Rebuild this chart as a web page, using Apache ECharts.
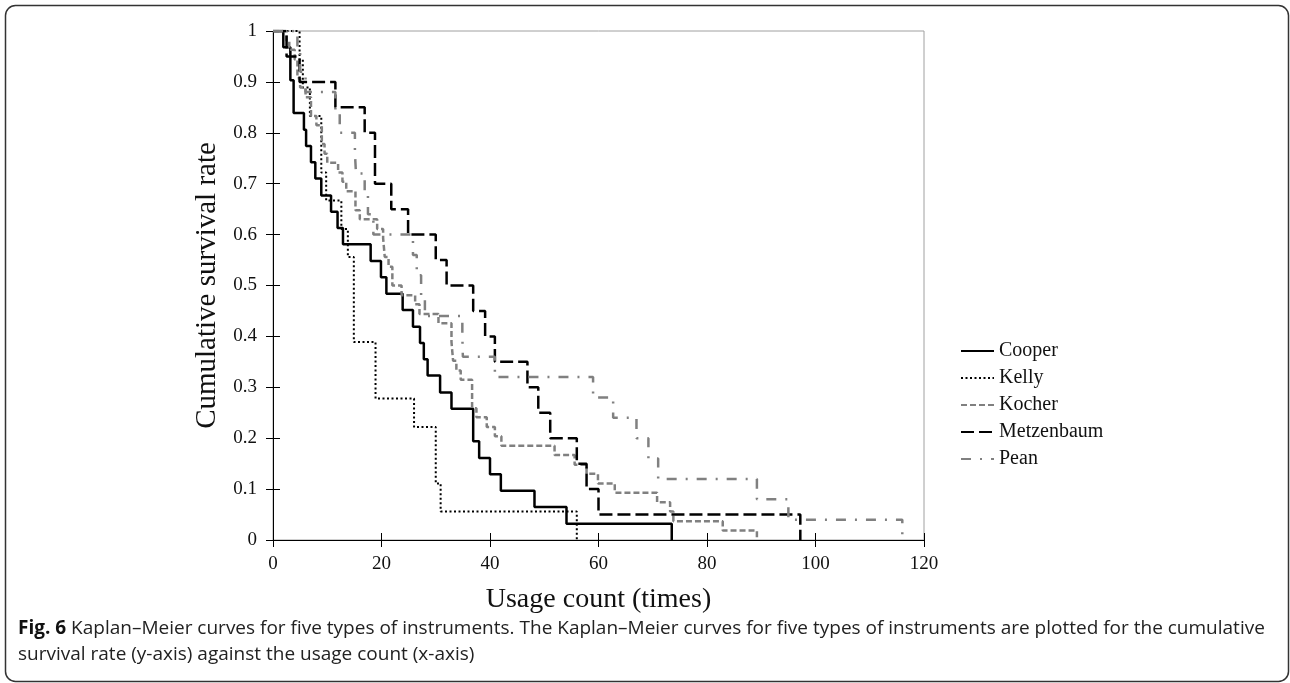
<!DOCTYPE html>
<html><head><meta charset="utf-8">
<script src="https://cdn.jsdelivr.net/npm/echarts@6/dist/echarts.min.js"></script>
<style>html,body{margin:0;padding:0;background:#fff}#c{width:1290px;height:683px}</style>
</head><body><div id="c"></div>
<script>
// Series data: [usage count, cumulative survival rate after the step]
const cooper = [[0,1],[1.9,0.968],[3.2,0.903],[3.8,0.839],[5.7,0.806],[6.1,0.774],[7.0,0.742],[7.8,0.71],[8.9,0.677],[10.7,0.645],[11.9,0.613],[12.9,0.581],[18.0,0.548],[19.9,0.516],[20.9,0.484],[23.9,0.452],[25.8,0.419],[27.1,0.387],[27.8,0.355],[28.5,0.323],[30.8,0.29],[32.9,0.258],[36.9,0.194],[38.0,0.161],[40.0,0.129],[42.0,0.097],[48.2,0.065],[54.1,0.032],[73.5,0]];
const kelly = [[0,1],[4.9,0.944],[5.5,0.889],[6.8,0.833],[8.9,0.722],[9.8,0.667],[12.6,0.611],[13.8,0.556],[14.9,0.389],[18.9,0.278],[26.0,0.222],[30.0,0.111],[30.9,0.056],[56.0,0]];
const kocher = [[0,1],[2.5,0.981],[3,0.963],[4,0.944],[4.5,0.907],[5,0.889],[6,0.87],[7,0.833],[8,0.815],[9,0.778],[9.5,0.759],[10,0.741],[12,0.722],[12.8,0.704],[13.5,0.685],[15.2,0.648],[16,0.63],[19.2,0.611],[20.3,0.593],[20.6,0.556],[21.3,0.537],[22,0.5],[23.7,0.481],[26.2,0.463],[27,0.444],[30.5,0.426],[32.9,0.389],[33.2,0.352],[33.8,0.333],[34.6,0.315],[36.7,0.259],[37.5,0.241],[39.4,0.222],[40.9,0.204],[42.1,0.185],[51.9,0.167],[55.6,0.148],[57.8,0.13],[59.9,0.111],[63,0.093],[70.8,0.074],[73.2,0.056],[73.8,0.037],[82.9,0.0185],[89.2,0]];
const metzenbaum = [[0,1],[2.5,0.95],[4.9,0.9],[11.5,0.85],[16.9,0.8],[18.8,0.7],[21.8,0.65],[24.9,0.6],[30.0,0.55],[32.0,0.5],[36.9,0.45],[39.1,0.4],[40.9,0.35],[46.9,0.3],[48.9,0.25],[51.1,0.2],[56.0,0.15],[57.8,0.1],[60.0,0.05],[97.2,0]];
const pean = [[0,1],[4.5,0.96],[5,0.92],[6,0.88],[11.5,0.84],[12.3,0.8],[15.1,0.76],[15.3,0.72],[16.9,0.68],[17.5,0.64],[18.5,0.6],[25.8,0.56],[26.5,0.52],[27.3,0.48],[28,0.44],[34.9,0.4],[35,0.36],[40.9,0.32],[59,0.28],[62.7,0.24],[67,0.2],[69.2,0.16],[71,0.12],[89.2,0.08],[95,0.04],[116,0]];
const seriesNames = ['Cooper','Kelly','Kocher','Metzenbaum','Pean'];
const xTickLabels = ['0','20','40','60','80','100','120'];
const yTickLabels = ['0','0.1','0.2','0.3','0.4','0.5','0.6','0.7','0.8','0.9','1'];
const xTitle = 'Usage count (times)';
const yTitle = 'Cumulative survival rate';
const captionBold = 'Fig. 6';
const captionLine1 = ' Kaplan–Meier curves for five types of instruments. The Kaplan–Meier curves for five types of instruments are plotted for the cumulative';
const captionLine2 = 'survival rate (y-axis) against the usage count (x-axis)';

const serif = 'Liberation Serif';
const styles = {
  Cooper:     {color:'#000', width:2.5, type:'solid'},
  Kelly:      {color:'#000', width:2, type:[2,2.5]},
  Kocher:     {color:'#808080', width:2.5, type:[6,3]},
  Metzenbaum: {color:'#000', width:2.5, type:[13,5]},
  Pean:       {color:'#808080', width:2.5, type:[10,9,2,9]}
};
const datasets = {Cooper:cooper, Kelly:kelly, Kocher:kocher, Metzenbaum:metzenbaum, Pean:pean};

const chart = echarts.init(document.getElementById('c'), null, {renderer:'canvas', width:1290, height:683});
const xAxisBase = {type:'value', min:0, max:120, interval:20};
const yAxisBase = {type:'value', min:0, max:1, interval:0.1};
chart.setOption({
  animation:false,
  backgroundColor:'#fff',
  grid:{left:273, right:366, top:31, bottom:143, show:true, borderColor:'#a0a0a0', borderWidth:1},
  xAxis:[
    Object.assign({}, xAxisBase, {
      position:'bottom',
      name:xTitle, nameLocation:'middle', nameGap:46,
      nameTextStyle:{fontFamily:serif, fontSize:28, color:'#111'},
      axisLine:{show:true, onZero:false, lineStyle:{color:'#000', width:1}},
      axisTick:{show:true, length:7, lineStyle:{color:'#000'}},
      axisLabel:{fontFamily:serif, fontSize:19, color:'#111', margin:15,
        formatter:(v)=>xTickLabels[Math.round(v/20)]},
      splitLine:{show:false}
    }),
    Object.assign({}, xAxisBase, {
      position:'bottom', offset:0,
      axisLine:{show:false}, axisTick:{show:true, inside:true, length:7, lineStyle:{color:'#000'}},
      axisLabel:{show:false}, splitLine:{show:false}
    })
  ],
  yAxis:[
    Object.assign({}, yAxisBase, {
      position:'left',
      name:yTitle, nameLocation:'middle', nameGap:51,
      nameTextStyle:{fontFamily:serif, fontSize:29, color:'#111'},
      axisLine:{show:true, onZero:false, lineStyle:{color:'#000', width:1}},
      axisTick:{show:true, length:7, lineStyle:{color:'#000'}},
      axisLabel:{fontFamily:serif, fontSize:19, color:'#111', margin:16,
        formatter:(v)=>yTickLabels[Math.round(v*10)]},
      splitLine:{show:false}
    }),
    Object.assign({}, yAxisBase, {
      position:'left', offset:0,
      axisLine:{show:false}, axisTick:{show:true, inside:true, length:7, lineStyle:{color:'#000'}},
      axisLabel:{show:false}, splitLine:{show:false}
    })
  ],
  legend:{
    orient:'vertical', left:955, top:336,
    itemWidth:33, itemHeight:14, itemGap:7,
    itemStyle:{color:'rgba(0,0,0,0)', borderWidth:0, opacity:0},
    textStyle:{fontFamily:serif, fontSize:20, lineHeight:20, color:'#111'},
    data:seriesNames
  },
  series: seriesNames.map(n=>({
    name:n, type:'line', step:'end', showSymbol:false, symbol:'none',
    xAxisIndex:0, yAxisIndex:0,
    data:datasets[n],
    lineStyle:{color:styles[n].color, width:styles[n].width, type:styles[n].type},
    itemStyle:{color:styles[n].color}
  })),
  graphic:[
    {type:'rect', left:3, top:3, shape:{width:1283, height:676, r:10}, style:{fill:null, stroke:'#333', lineWidth:1.5}, silent:true},
    {type:'text', left:18, top:619, style:{
      text:'{b|'+captionBold+'}{r|'+captionLine1+'}',
      rich:{b:{fontFamily:'Open Sans', fontWeight:'bold', fontSize:19, fill:'#111'}, r:{fontFamily:'Open Sans', fontSize:19, fill:'#222'}}
    }},
    {type:'text', left:18, top:645, style:{text:captionLine2, fontFamily:'Open Sans', fontSize:19, fill:'#222'}}
  ]
});
</script></body></html>
